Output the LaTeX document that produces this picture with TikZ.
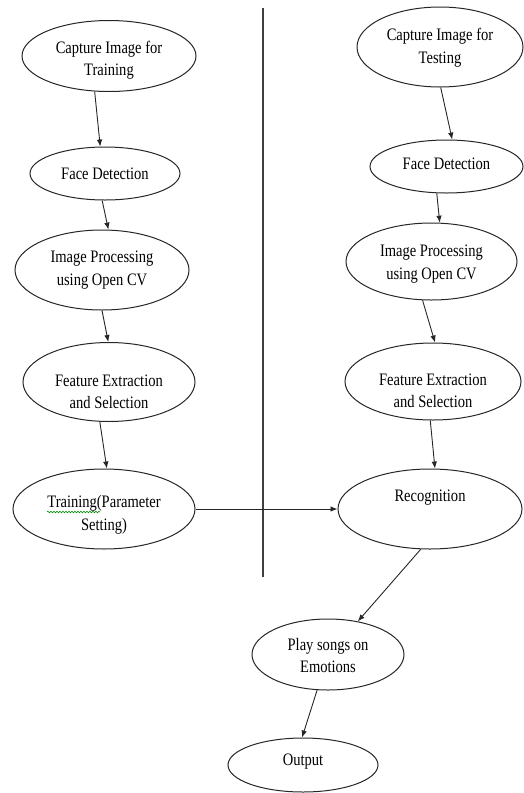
\documentclass[tikz,border=0pt]{standalone}
\usepackage{fontspec}
\setmainfont{Liberation Serif}[FakeStretch=0.83]
\usetikzlibrary{shapes.geometric,arrows.meta,decorations.pathmorphing}
\begin{document}
\begin{tikzpicture}[x=1pt,y=-1pt,
  ell/.style={ellipse, draw=black!85, line width=1pt, inner sep=0pt},
  tx/.style={align=center, inner sep=0pt, font=\fontsize{17.5}{22.5}\selectfont},
  arr/.style={-{Latex[length=7pt,width=5.5pt]}, line width=0.9pt, draw=black!85},
  divider/.style={line width=1.1pt, draw=black!75},
  spell/.style={draw=green!55!black, line width=0.6pt, decorate,
    decoration={snake, amplitude=0.8pt, segment length=3pt}}]
\useasboundingbox (0,0) rectangle (524,793);
% left column
\node[ell, minimum width=174pt, minimum height=71pt,
  label={[tx,name=l1t,yshift=-4pt]center:Capture Image for\\Training}] (l1) at (109,56) {};
\node[ell, minimum width=150pt, minimum height=53pt,
  label={[tx,name=l2t,yshift=-0.5pt]center:Face Detection}] (l2) at (105,173.5) {};
\node[ell, minimum width=174pt, minimum height=80pt,
  label={[tx,name=l3t,yshift=0pt]center:Image Processing\\using Open CV}] (l3) at (102,270) {};
\node[ell, minimum width=172pt, minimum height=79pt,
  label={[tx,name=l4t,yshift=-10pt]center:Feature Extraction\\and Selection}] (l4) at (109,382) {};
\node[ell, minimum width=182pt, minimum height=80pt,
  label={[tx,name=l5t,yshift=-6pt]center:Training(Parameter\\Setting)}] (l5) at (104,509) {};
% right column
\node[ell, minimum width=166pt, minimum height=80pt,
  label={[tx,name=r1t,yshift=-0.5pt]center:Capture Image for\\Testing}] (r1) at (440,47) {};
\node[ell, minimum width=153pt, minimum height=53pt,
  label={[tx,name=r2t,yshift=3pt]center:Face Detection}] (r2) at (446.5,166.5) {};
\node[ell, minimum width=171pt, minimum height=77pt,
  label={[tx,name=r3t,yshift=-2.5pt]center:Image Processing\\using Open CV}] (r3) at (431.5,261.5) {};
\node[ell, minimum width=176pt, minimum height=77pt,
  label={[tx,name=r4t,yshift=-9.5pt]center:Feature Extraction\\and Selection}] (r4) at (433,381.5) {};
\node[ell, minimum width=184pt, minimum height=80pt,
  label={[tx,name=r5t,yshift=11pt]center:Recognition}] (r5) at (430,509) {};
% bottom
\node[ell, minimum width=152pt, minimum height=71pt,
  label={[tx,name=pt,yshift=-1pt]center:Play songs on\\Emotions}] (p) at (328,654.5) {};
\node[ell, minimum width=150pt, minimum height=54pt,
  label={[tx,name=ot,yshift=3pt]center:Output}] (o) at (303,765) {};
% divider
\coordinate (vtop) at (263,8);
\coordinate (vbot) at (263,577);
\draw[divider] (vtop) -- (vbot);
% spell-check mark
\coordinate (sq1) at (47,512);
\coordinate (sq2) at (100,512);
\draw[spell] (sq1) -- (sq2);
% arrows
\draw[arr] (l1.248) -- (l2.100);
\draw[arr] (l2.264) -- (l3.81);
\draw[arr] (l3.270) -- (l4.91);
\draw[arr] (l4.257) -- (l5.86);
\draw[arr] (l5.east) -- (r5.west);
\draw[arr] (r1.271) -- (r2.78);
\draw[arr] (r2.250) -- (r3.78);
\draw[arr] (r3.257) -- (r4.87);
\draw[arr] (r4.266) -- (r5.83);
\draw[arr] (r5.257) -- (p.48);
\draw[arr] (p.253) -- (o.92);
\end{tikzpicture}
\end{document}
